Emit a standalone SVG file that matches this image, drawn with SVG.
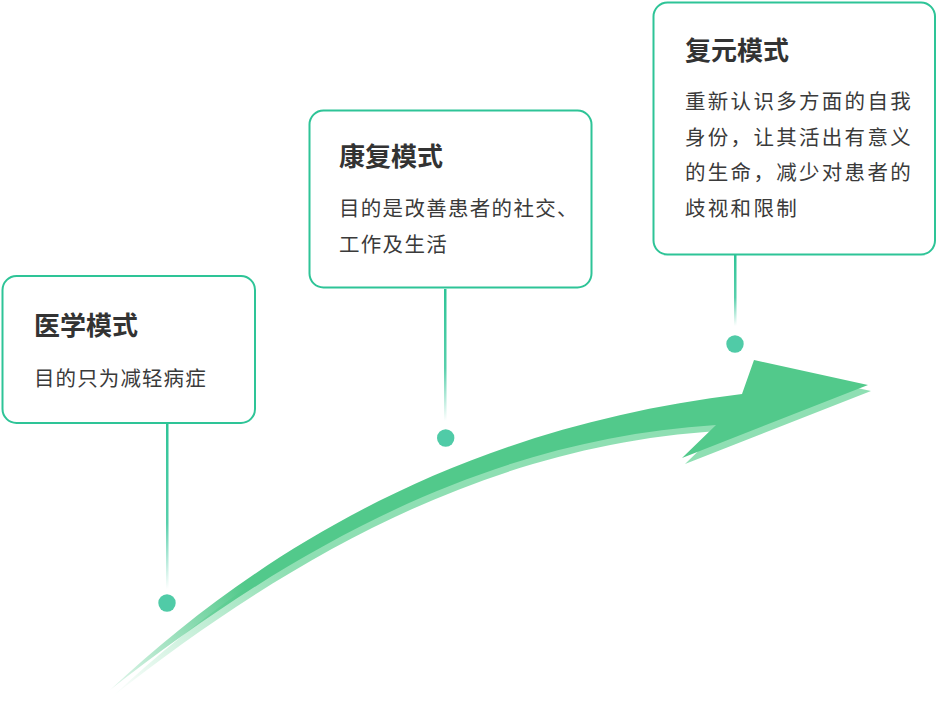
<svg xmlns="http://www.w3.org/2000/svg" width="938" height="710" viewBox="0 0 938 710">
  <defs>
    <style>
      .box { fill: #ffffff; stroke: #2ec497; stroke-width: 2; }
      .title { font-family: "Noto Sans CJK SC", "Noto Sans", sans-serif; font-size: 26px; font-weight: bold; fill: #333333; }
      .body { font-family: "Noto Sans CJK SC", "Noto Sans", sans-serif; font-size: 20.5px; fill: #3a3a3a; letter-spacing: 1.1px; }
      .body2 { letter-spacing: 1.3px; }
      .body3 { letter-spacing: 2.3px; }
      .dot { fill: #50cba7; }
      .stem { fill: url(#stemGrad); }
    </style>
    <linearGradient id="stemGrad" x1="0" y1="0" x2="0" y2="1">
      <stop offset="0" stop-color="#2ec497" stop-opacity="1"/>
      <stop offset="0.6" stop-color="#2ec497" stop-opacity="0.8"/>
      <stop offset="1" stop-color="#2ec497" stop-opacity="0"/>
    </linearGradient>
    <linearGradient id="darkGrad" gradientUnits="userSpaceOnUse" x1="110" y1="690" x2="240" y2="580">
      <stop offset="0" stop-color="#52c98b" stop-opacity="0.15"/>
      <stop offset="1" stop-color="#52c98b" stop-opacity="1"/>
    </linearGradient>
    <linearGradient id="lightGrad" gradientUnits="userSpaceOnUse" x1="113" y1="696" x2="280" y2="560">
      <stop offset="0" stop-color="#8fdfb3" stop-opacity="0"/>
      <stop offset="1" stop-color="#8fdfb3" stop-opacity="1"/>
    </linearGradient>
    <path id="arrowShape" d="M110,690 C260,550 460,428 742,394 L754,360 L868,385 L682,458 L716,425 C470,440 270,565 110,690 Z"/>
  </defs>

  <g id="arrow">
    <use href="#arrowShape" transform="translate(3,6)" fill="url(#lightGrad)"/>
    <use href="#arrowShape" fill="url(#darkGrad)"/>
  </g>

  <g id="connectors">
    <rect class="stem" x="166" y="424" width="2.5" height="165"/>
    <rect class="stem" x="444" y="289" width="2.5" height="132"/>
    <rect class="stem" x="734" y="255" width="2.5" height="71"/>
    <circle class="dot" cx="167" cy="603" r="8.7"/>
    <circle class="dot" cx="445.7" cy="438" r="8.7"/>
    <circle class="dot" cx="735" cy="344" r="8.7"/>
  </g>

  <g id="node-medical">
    <rect class="box" x="2.5" y="276" width="252.5" height="147" rx="14"/>
    <text class="title" x="34" y="335">医学模式</text>
    <text class="body" x="34" y="385.5">目的只为减轻病症</text>
  </g>

  <g id="node-rehab">
    <rect class="box" x="309.5" y="110.5" width="282" height="177" rx="14"/>
    <text class="title" x="339" y="166">康复模式</text>
    <text class="body body2" x="339" y="216">目的是改善患者的社交、</text>
    <text class="body body2" x="339" y="252">工作及生活</text>
  </g>

  <g id="node-recovery">
    <rect class="box" x="653.5" y="2.5" width="281.5" height="252" rx="14"/>
    <text class="title" x="685" y="60">复元模式</text>
    <text class="body body3" x="685" y="109">重新认识多方面的自我</text>
    <text class="body body3" x="685" y="144.5">身份，让其活出有意义</text>
    <text class="body body3" x="685" y="180">的生命，减少对患者的</text>
    <text class="body body3" x="685" y="215.5">歧视和限制</text>
  </g>
</svg>
